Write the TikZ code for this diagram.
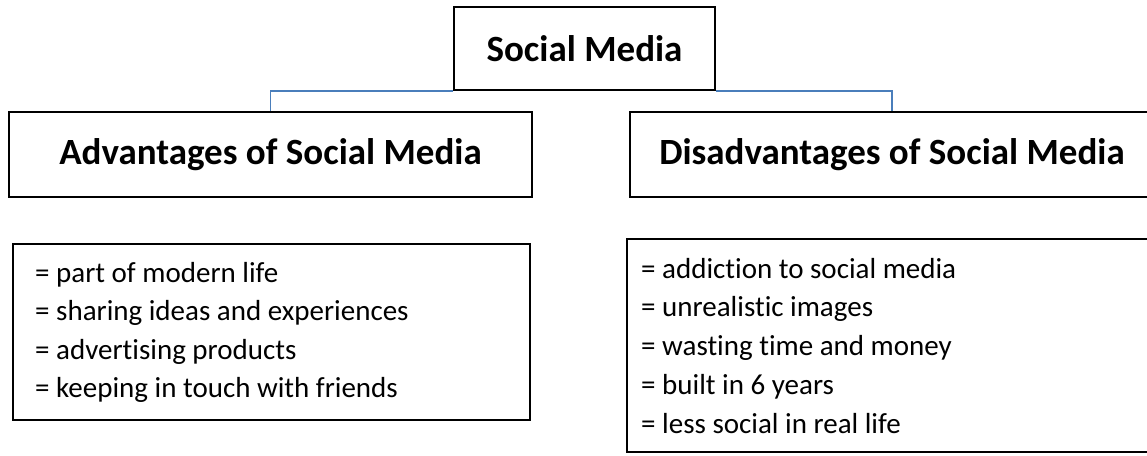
\documentclass[tikz,border=0pt]{standalone}
\usepackage{fontspec}
\setmainfont{Carlito}[Ligatures={NoCommon}]
\definecolor{connblue}{RGB}{74,126,187}
\begin{document}
\begin{tikzpicture}[x=1pt,y=-1pt,
  box/.style={draw=black, line width=1.7pt, inner sep=0pt, fill=white},
  headfont/.style={font=\fontsize{37}{44}\selectfont\bfseries},
  item/.style={font=\fontsize{29}{35}\selectfont, anchor=base west, inner sep=0pt},
  conn/.style={draw=connblue, line width=1.8pt}]
\useasboundingbox[fill=white] (0,0) rectangle (1147,455);
\node[box, headfont, minimum width=261pt, minimum height=83pt] (top) at (584.5,48.5) {Social Media};
\node[box, headfont, minimum width=523pt, minimum height=85pt] (adv) at (270.5,154.5) {Advantages of Social Media};
\node[box, headfont, minimum width=524pt, minimum height=85pt] (dis) at (892,154.5) {Disadvantages of Social Media};
\draw[conn] (top.south west) -| (adv.north);
\draw[conn] (top.south east) -| (dis.north);
\node[box, minimum width=517pt, minimum height=176pt] (advlist) at (271.5,332) {};
\node[box, minimum width=528pt, minimum height=213pt] (dislist) at (891,345.5) {};
\node[item] (a1) at (35,282) {= part of modern life};
\node[item] (a2) at (35,320.5) {= sharing ideas and experiences};
\node[item] (a3) at (35,359) {= advertising products};
\node[item] (a4) at (35,397.5) {= keeping in touch with friends};
\node[item] (d1) at (641,278) {= addiction to social media};
\node[item] (d2) at (641,316.75) {= unrealistic images};
\node[item] (d3) at (641,355.5) {= wasting time and money};
\node[item] (d4) at (641,394.25) {= built in 6 years};
\node[item] (d5) at (641,433) {= less social in real life};
\end{tikzpicture}
\end{document}
